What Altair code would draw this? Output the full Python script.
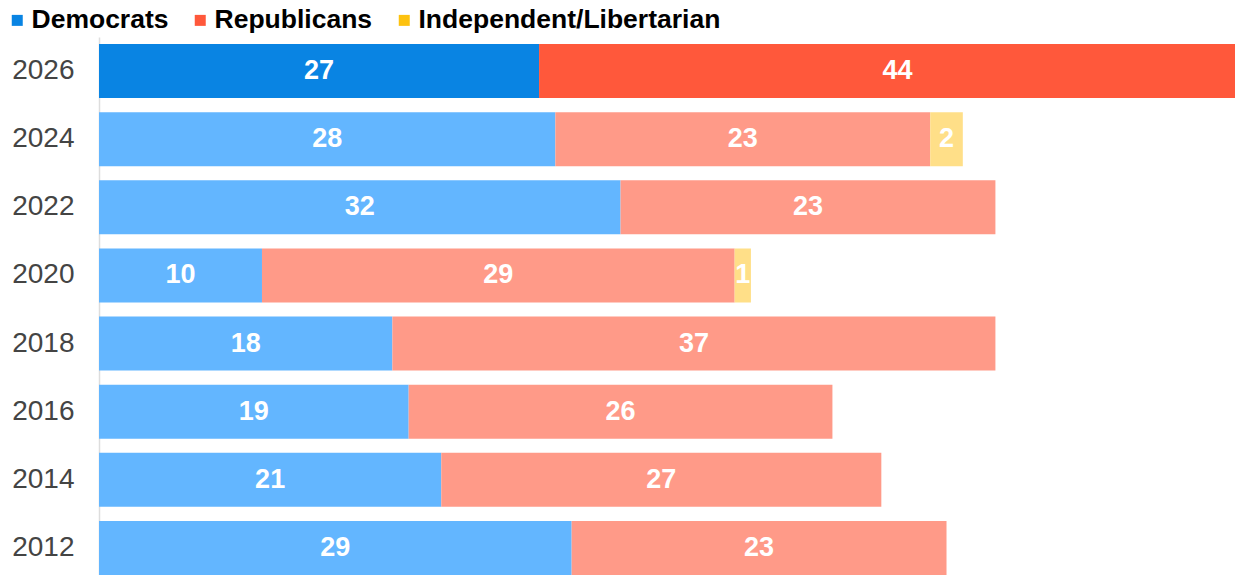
import altair as alt
import pandas as pd

years = ["2026", "2024", "2022", "2020", "2018", "2016", "2014", "2012"]
democrats = [27, 28, 32, 10, 18, 19, 21, 29]
republicans = [44, 23, 23, 29, 37, 26, 27, 23]
independents = [0, 2, 0, 1, 0, 0, 0, 0]
parties = ["Democrats", "Republicans", "Independent/Libertarian"]
highlight_year = "2026"

rows = []
for i, y in enumerate(years):
    start = 0
    for p, vals in zip(parties, [democrats, republicans, independents]):
        v = vals[i]
        if v > 0:
            shade = "dark" if y == highlight_year else "light"
            rows.append({
                "year": y, "party": p, "value": v,
                "start": start, "end": start + v, "mid": start + v / 2,
                "key": f"{p}|{shade}",
            })
        start += v
df = pd.DataFrame(rows)

dark = ["#0984e3", "#ff583b", "#fdc20f"]
light = ["#63b6ff", "#ff9a88", "#ffdf88"]
fill_domain = [f"{p}|dark" for p in parties] + [f"{p}|light" for p in parties]
fill_range = dark + light

FONT = "Liberation Sans"
x_scale = alt.Scale(domain=[0, 69.7], nice=False, zero=True)
y_enc = alt.Y(
    "year:N",
    sort=years,
    scale=alt.Scale(paddingInner=0.2056, paddingOuter=0.1028),
    axis=alt.Axis(
        title=None, ticks=False, labelPadding=25, labelFontSize=28,
        labelColor="#444444", labelFont=FONT, domainColor="#dddddd",
        domainWidth=1.5, grid=False,
    ),
)

base = alt.Chart(df)

bars = base.mark_bar(clip=True).encode(
    x=alt.X("start:Q", scale=x_scale, axis=None),
    x2="end:Q",
    y=y_enc,
    fill=alt.Fill("key:N", scale=alt.Scale(domain=fill_domain, range=fill_range), legend=None),
)

labels = base.mark_text(
    color="white", fontSize=27, fontWeight="bold", font=FONT, baseline="middle", clip=True
).encode(
    x=alt.X("mid:Q", scale=x_scale, axis=None),
    y=y_enc,
    text="value:Q",
)

legend_layer = base.mark_point(shape="square", filled=True, opacity=0).encode(
    x=alt.X("start:Q", scale=x_scale, axis=None),
    y=y_enc,
    color=alt.Color(
        "party:N",
        scale=alt.Scale(domain=parties, range=dark),
        legend=alt.Legend(
            title=None, orient="none", legendX=-95, legendY=-30, direction="horizontal",
            symbolType="square", symbolSize=121, symbolOpacity=1, symbolStrokeWidth=0,
            labelFontSize=26.5, labelFontWeight="bold", labelFont=FONT, labelColor="#000000",
            labelOffset=1, columnPadding=18, labelLimit=400, padding=0,
        ),
    ),
)

chart = alt.layer(bars, labels, legend_layer).properties(
    width=1136, height=545,
    autosize=alt.AutoSizeParams(type="none"),
    padding={"left": 91, "top": 29, "right": 0, "bottom": 0},
).configure_view(stroke=None)

chart.save("out.html", embed_options={"renderer": "svg", "actions": False})
